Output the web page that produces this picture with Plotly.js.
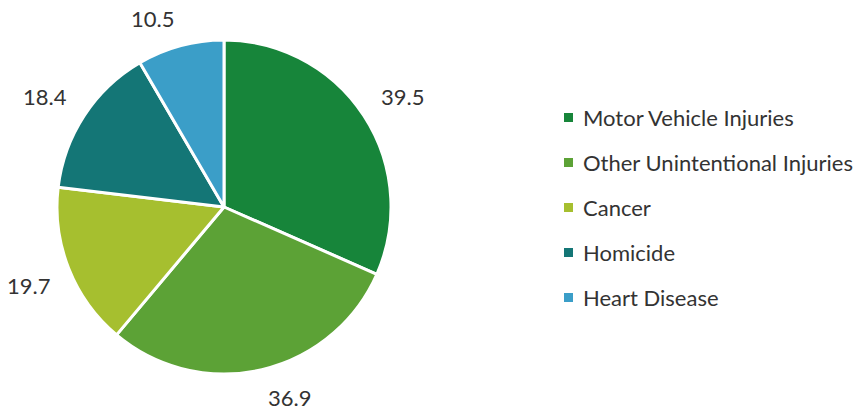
<!DOCTYPE html>
<html><head><meta charset="utf-8">
<script src="https://cdn.plot.ly/plotly-3.0.1.min.js"></script>
<style>html,body{margin:0;padding:0;background:#fff}</style>
</head><body>
<div id="chart" style="width:859px;height:414px"></div>
<script>
const categories = ["Motor Vehicle Injuries","Other Unintentional Injuries","Cancer","Homicide","Heart Disease"];
const values = [39.5, 36.9, 19.7, 18.4, 10.5];
const valueLabels = ["39.5","36.9","19.7","18.4","10.5"];
const colors = ["#17853a","#5ca236","#a6bf2f","#147676","#3b9ec8"];

const W = 859, H = 414;
const domX = [57/W, 391/W], domY = [1-374/H, 1-40/H];
const cx = (domX[0]+domX[1])/2*W, cy = (1-(domY[0]+domY[1])/2)*H;
const R = (domX[1]-domX[0])*W/2;
const total = values.reduce((a,b)=>a+b,0);
const FONT = "Lato, 'Open Sans', sans-serif";

const annotations = [];
const shapes = [];
let cum = 0;
values.forEach((v,i)=>{
  const mid = (cum + v/2)/total*2*Math.PI; cum += v;
  const s = Math.sin(mid), c = Math.cos(mid);
  const d = R + 18;
  const px = cx + d*s, py = cy - d*c;
  annotations.push({x:px/W, y:1-py/H, xref:'paper', yref:'paper', text:valueLabels[i], showarrow:false,
    xanchor: s>0 ? 'left':'right', yanchor: c>0 ? 'bottom':'top', yshift: c>0 ? -6 : 5,
    font:{family:FONT, size:22, color:'#333'}});
  // legend
  const ly = 117.5 + 45*i;
  annotations.push({x:581/W, y:1-ly/H, xref:'paper', yref:'paper', text:categories[i], showarrow:false,
    xanchor:'left', yanchor:'middle', font:{family:FONT, size:22, color:'#333'}});
  shapes.push({type:'rect', xref:'paper', yref:'paper', x0:564/W, x1:573/W, y0:1-(ly+4.5)/H, y1:1-(ly-4.5)/H,
    fillcolor:colors[i], line:{width:0}});
});

Plotly.newPlot('chart', [{
  type:'pie', labels:categories, values:values, sort:false, direction:'clockwise', rotation:0,
  marker:{colors:colors, line:{color:'#ffffff', width:3}}, textinfo:'none', hoverinfo:'label+value',
  domain:{x:domX, y:domY}, showlegend:false
}], {
  width:W, height:H, margin:{l:0,r:0,t:0,b:0}, paper_bgcolor:'#fff', plot_bgcolor:'#fff',
  showlegend:false, annotations:annotations, shapes:shapes
}, {displayModeBar:false, staticPlot:true});
</script>
</body></html>
